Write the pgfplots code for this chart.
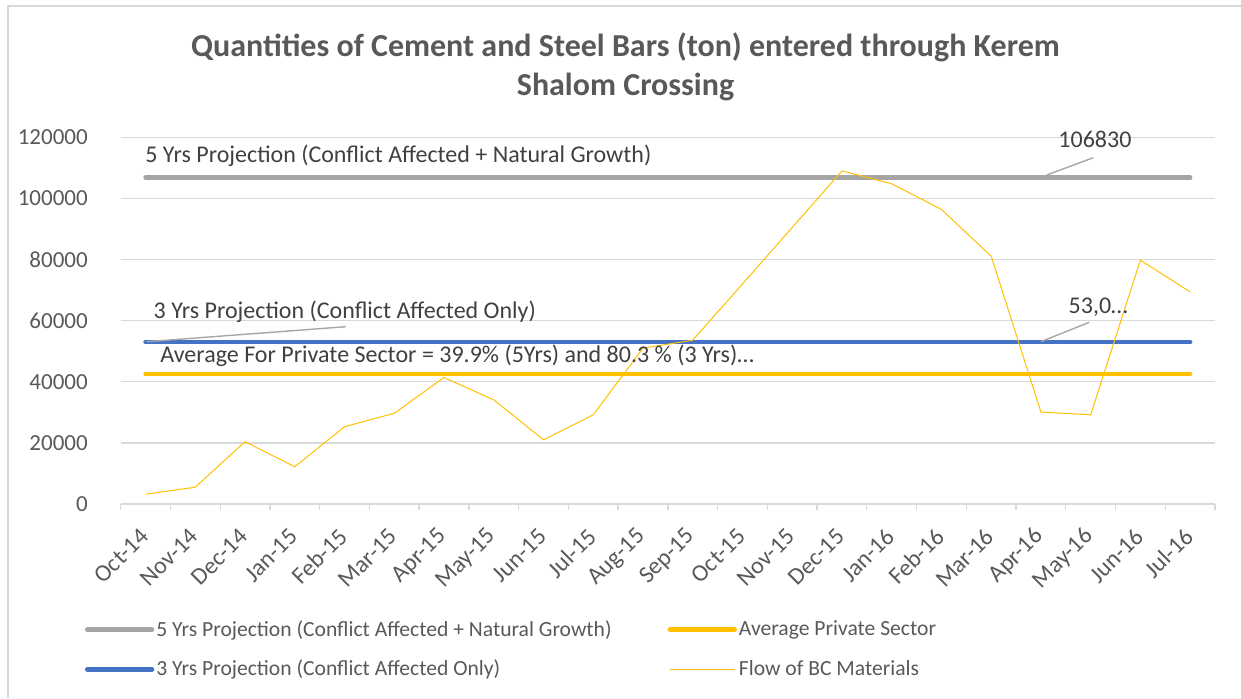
\documentclass[border=0pt]{standalone}
\usepackage{fontspec}
\setmainfont{Carlito}
\usepackage{pgfplots}
\usepackage{pgfplotstable}
\pgfplotsset{compat=1.18}
\definecolor{gridgray}{HTML}{D9D9D9}
\definecolor{txtgray}{HTML}{595959}
\definecolor{anngray}{HTML}{404040}
\definecolor{projgray}{HTML}{A5A5A5}
\definecolor{projblue}{HTML}{4472C4}
\definecolor{gold}{HTML}{FFC000}
\definecolor{leader}{HTML}{A6A6A6}

\pgfplotstableread{
x y
0 3200
1 5500
2 20400
3 12200
4 25300
5 29700
6 41400
7 34100
8 21000
9 29200
10 51000
11 53600
12 72000
13 90500
14 109000
15 104800
16 96400
17 81100
18 30100
19 29200
20 79800
21 69400
}\flowdata

\begin{document}
\begin{tikzpicture}
\path[use as bounding box] (0,0) rectangle (620.5pt,-349pt);
\draw[gridgray, line width=0.65pt] (4pt,-349pt) -- (4pt,-3pt) -- (620.5pt,-3pt);
\begin{axis}[
  at={(60.35pt,-252pt)}, anchor=south west,
  scale only axis, width=547.15pt, height=183.35pt,
  xmin=-0.5, xmax=21.5, ymin=0, ymax=120000,
  clip=false,
  axis line style={draw=none},
  ymajorgrids, grid style={gridgray, line width=0.65pt},
  ytick={0,20000,40000,60000,80000,100000,120000},
  yticklabels={0,20000,40000,60000,80000,100000,120000},
  scaled y ticks=false,
  ytick style={draw=none},
  xtick={0,...,21},
  xticklabels={Oct-14,Nov-14,Dec-14,Jan-15,Feb-15,Mar-15,Apr-15,May-15,Jun-15,Jul-15,Aug-15,Sep-15,Oct-15,Nov-15,Dec-15,Jan-16,Feb-16,Mar-16,Apr-16,May-16,Jun-16,Jul-16},
  xtick style={draw=none},
  minor xtick={-0.5,0.5,1.5,2.5,3.5,4.5,5.5,6.5,7.5,8.5,9.5,10.5,11.5,12.5,13.5,14.5,15.5,16.5,17.5,18.5,19.5,20.5,21.5},
  minor x tick style={draw=gridgray, line width=0.65pt},
  minor tick length=3pt,
  tick align=outside,
  xtick pos=left, ytick pos=left,
  ticklabel style={font=\fontsize{11.5}{13}\selectfont, text=txtgray},
  yticklabel style={anchor=east, inner sep=0pt, xshift=-12pt},
  xticklabel style={font=\fontsize{12}{13}\selectfont, inner sep=0pt, yshift=-10pt, xshift=-0.5pt, rotate=45, anchor=east},
  legend style={
    at={(-0.0385,-0.3968)}, anchor=west,
    draw=none, fill=none,
    legend columns=2, row sep=8.5pt,
    nodes={inner sep=1pt},
    font=\fontsize{10.8}{12}\selectfont, text=txtgray,
    /tikz/every even column/.append style={column sep=27pt},
  },
  legend cell align=left,
  legend image code/.code={\draw[#1] (1.15pt,0pt) -- (33.5pt,0pt);},
]
\addplot[projgray, line width=2.3pt, line cap=round] coordinates {(0,106830) (21,106830)};
\addlegendentry{5 Yrs Projection (Conflict Affected + Natural Growth)}
\addplot[gold, line width=2.3pt, line cap=round] coordinates {(0,42600) (21,42600)};
\addlegendentry{Average Private Sector}
\addplot[projblue, line width=2.3pt, line cap=round] coordinates {(0,53000) (21,53000)};
\addlegendentry{3 Yrs Projection (Conflict Affected Only)}
\addplot[gold, line width=0.5pt] table[x=x,y=y] {\flowdata};
\addlegendentry{Flow of BC Materials}
\end{axis}
\begin{scope}[x=0.5pt,y=-0.5pt]
\node[anchor=base, inner sep=0pt, font=\fontsize{16}{19}\selectfont\bfseries, text=txtgray] at (625.5,56.5) {Quantities of Cement and Steel Bars (ton) entered through Kerem};
\node[anchor=base, inner sep=0pt, font=\fontsize{16}{19}\selectfont\bfseries, text=txtgray] at (625.5,95) {Shalom Crossing};
\begin{scope}[every node/.style={inner sep=0pt, anchor=base west, font=\fontsize{12}{14}\selectfont, text=anngray}]
\node at (145,162.7) {5 Yrs Projection (Conflict Affected + Natural Growth)};
\node at (1058,147.3) {106830};
\node at (153.3,318.3) {3 Yrs Projection (Conflict Affected Only)};
\node at (160,362.7) {Average For Private Sector = 39.9\% (5Yrs) and 80.3 \% (3 Yrs)…};
\node at (1068.3,313.3) {53,0…};
\end{scope}
\draw[leader, line width=0.7pt] (1046.7,175) -- (1093.3,157.7);
\draw[leader, line width=0.7pt] (146.7,341.7) -- (345.7,326.7);
\draw[leader, line width=0.7pt] (1040.7,341.7) -- (1089.3,322.3);
\end{scope}
\end{tikzpicture}
\end{document}
